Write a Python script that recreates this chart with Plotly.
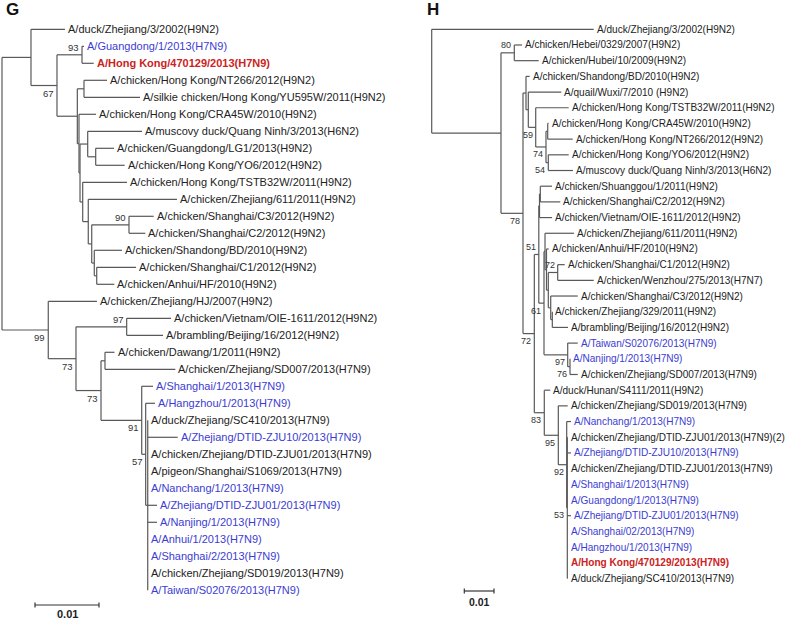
import plotly.graph_objects as go

W, H = 787, 619

# ---------------- Tree G ----------------
g_leaves = [
    "A/duck/Zhejiang/3/2002(H9N2)",
    "A/Guangdong/1/2013(H7N9)",
    "A/Hong Kong/470129/2013(H7N9)",
    "A/chicken/Hong Kong/NT266/2012(H9N2)",
    "A/silkie chicken/Hong Kong/YU595W/2011(H9N2)",
    "A/chicken/Hong Kong/CRA45W/2010(H9N2)",
    "A/muscovy duck/Quang Ninh/3/2013(H6N2)",
    "A/chicken/Guangdong/LG1/2013(H9N2)",
    "A/chicken/Hong Kong/YO6/2012(H9N2)",
    "A/chicken/Hong Kong/TSTB32W/2011(H9N2)",
    "A/chicken/Zhejiang/611/2011(H9N2)",
    "A/chicken/Shanghai/C3/2012(H9N2)",
    "A/chicken/Shanghai/C2/2012(H9N2)",
    "A/chicken/Shandong/BD/2010(H9N2)",
    "A/chicken/Shanghai/C1/2012(H9N2)",
    "A/chicken/Anhui/HF/2010(H9N2)",
    "A/chicken/Zhejiang/HJ/2007(H9N2)",
    "A/chicken/Vietnam/OIE-1611/2012(H9N2)",
    "A/brambling/Beijing/16/2012(H9N2)",
    "A/chicken/Dawang/1/2011(H9N2)",
    "A/chicken/Zhejiang/SD007/2013(H7N9)",
    "A/Shanghai/1/2013(H7N9)",
    "A/Hangzhou/1/2013(H7N9)",
    "A/duck/Zhejiang/SC410/2013(H7N9)",
    "A/Zhejiang/DTID-ZJU10/2013(H7N9)",
    "A/chicken/Zhejiang/DTID-ZJU01/2013(H7N9)",
    "A/pigeon/Shanghai/S1069/2013(H7N9)",
    "A/Nanchang/1/2013(H7N9)",
    "A/Zhejiang/DTID-ZJU01/2013(H7N9)",
    "A/Nanjing/1/2013(H7N9)",
    "A/Anhui/1/2013(H7N9)",
    "A/Shanghai/2/2013(H7N9)",
    "A/chicken/Zhejiang/SD019/2013(H7N9)",
    "A/Taiwan/S02076/2013(H7N9)",
]
g_leaf_group = ["other", "human", "hk"] + ["other"] * 18 + [
    "human", "human", "other", "human", "other", "other", "human",
    "human", "human", "human", "human", "other", "human"]
g_leaf_parent = ["A0", "N23", "N23", "N45", "N45", "Nrest", "N789", "N89", "N89",
                 "N10_16", "N11_16", "N1213", "N1213", "N14_16", "N1516", "N1516",
                 "B", "N1819", "N1819", "N2021", "N2021", "B4", "B5"] + ["B6"] * 11
g_leaf_depth = [0.00984, 0.01281, 0.01433, 0.01641, 0.02156, 0.01469, 0.02188,
                0.01750, 0.01917, 0.01953, 0.02734, 0.02370, 0.02239, 0.01875,
                0.02094, 0.01755, 0.01484, 0.02641, 0.02516, 0.01758, 0.02708,
                0.02359, 0.02391, 0.02277, 0.02745, 0.02277, 0.02277, 0.02277,
                0.02422, 0.02422, 0.02277, 0.02277, 0.02277, 0.02277]
g_nodes = ["root", "A0", "A1", "N23", "P", "N45", "Nrest", "R", "N789", "N89",
           "N10_16", "N11_16", "N12_16", "N1213", "N14_16", "N1516",
           "B", "B2", "N1819", "B3", "N2021", "B4", "B5", "B6"]
g_node_parent = [None, "root", "A0", "A1", "A1", "P", "P", "Nrest", "R", "N789",
                 "R", "N10_16", "N11_16", "N12_16", "N12_16", "N14_16",
                 "root", "B", "B2", "B2", "B3", "B3", "B4", "B5"]
g_node_depth = [0.0, 0.00453, 0.00859, 0.01250, 0.01177, 0.01281, 0.01203, 0.01219,
                0.01339, 0.01464, 0.01261, 0.01348, 0.01402, 0.01984, 0.01442,
                0.01480, 0.00723, 0.01156, 0.01948, 0.01547, 0.01609, 0.02183,
                0.02245, 0.02277]
g_boot_node = ["N23", "A1", "N1213", "B", "N1819", "B2", "B3", "B4", "B5"]
g_boot_value = [93, 67, 90, 99, 97, 73, 73, 91, 57]
g_boot_above = ["N23", "N1213", "N1819"]

# ---------------- Tree H ----------------
h_leaves = [
    "A/duck/Zhejiang/3/2002(H9N2)",
    "A/chicken/Hebei/0329/2007(H9N2)",
    "A/chicken/Hubei/10/2009(H9N2)",
    "A/chicken/Shandong/BD/2010(H9N2)",
    "A/quail/Wuxi/7/2010 (H9N2)",
    "A/chicken/Hong Kong/TSTB32W/2011(H9N2)",
    "A/chicken/Hong Kong/CRA45W/2010(H9N2)",
    "A/chicken/Hong Kong/NT266/2012(H9N2)",
    "A/chicken/Hong Kong/YO6/2012(H9N2)",
    "A/muscovy duck/Quang Ninh/3/2013(H6N2)",
    "A/chicken/Shuanggou/1/2011(H9N2)",
    "A/chicken/Shanghai/C2/2012(H9N2)",
    "A/chicken/Vietnam/OIE-1611/2012(H9N2)",
    "A/chicken/Zhejiang/611/2011(H9N2)",
    "A/chicken/Anhui/HF/2010(H9N2)",
    "A/chicken/Shanghai/C1/2012(H9N2)",
    "A/chicken/Wenzhou/275/2013(H7N7)",
    "A/chicken/Shanghai/C3/2012(H9N2)",
    "A/chicken/Zhejiang/329/2011(H9N2)",
    "A/brambling/Beijing/16/2012(H9N2)",
    "A/Taiwan/S02076/2013(H7N9)",
    "A/Nanjing/1/2013(H7N9)",
    "A/chicken/Zhejiang/SD007/2013(H7N9)",
    "A/duck/Hunan/S4111/2011(H9N2)",
    "A/chicken/Zhejiang/SD019/2013(H7N9)",
    "A/Nanchang/1/2013(H7N9)",
    "A/chicken/Zhejiang/DTID-ZJU01/2013(H7N9)(2)",
    "A/Zhejiang/DTID-ZJU10/2013(H7N9)",
    "A/chicken/Zhejiang/DTID-ZJU01/2013(H7N9)",
    "A/Shanghai/1/2013(H7N9)",
    "A/Guangdong/1/2013(H7N9)",
    "A/Zhejiang/DTID-ZJU01/2013(H7N9)",
    "A/Shanghai/02/2013(H7N9)",
    "A/Hangzhou/1/2013(H7N9)",
    "A/Hong Kong/470129/2013(H7N9)",
    "A/duck/Zhejiang/SC410/2013(H7N9)",
]
h_leaf_group = ["other"] * 20 + ["human", "human", "other", "other", "other",
                                 "human", "other", "human", "other", "human",
                                 "human", "human", "human", "human", "hk", "other"]
h_leaf_parent = ["root", "N23", "N23", "T", "N5", "N6", "N78", "N78", "N910", "N910",
                 "N1112", "N1112", "N1113", "W", "W2", "N1617", "N1617", "N18_20",
                 "N1920", "N1920", "N2123", "N2223", "N2223", "N83", "N95", "N92"] + ["N53"] * 10
h_leaf_depth = [0.05455, 0.03040, 0.03603, 0.03300, 0.04364, 0.04613, 0.03933,
                0.04747, 0.04613, 0.04758, 0.04051, 0.04330, 0.04051, 0.04791,
                0.03939, 0.04478, 0.05455, 0.04916, 0.04061, 0.04589, 0.04916,
                0.04657, 0.04916, 0.03993, 0.04579, 0.04690, 0.04579, 0.04690,
                0.04579, 0.04579, 0.04579, 0.04690, 0.04579, 0.04579, 0.04579,
                0.04579]
h_nodes = ["root", "N1", "N23", "X", "T", "N5", "N6", "N7", "N78", "N910", "Y",
           "N51", "N1113", "N1112", "Z", "W", "W2", "N1617_20", "N1617", "N18_20",
           "N1920", "N2123", "N2223", "N83", "N95", "N92", "N53"]
h_node_parent = [None, "root", "N1", "N1", "X", "T", "N5", "N6", "N7", "N7", "X",
                 "Y", "N51", "N1113", "N51", "Z", "W", "W2", "N1617_20", "N1617_20",
                 "N18_20", "Z", "N2123", "Y", "N83", "N95", "N92"]
h_node_depth = [0.0, 0.02333, 0.02781, 0.03074, 0.03175, 0.03253, 0.03502, 0.03848,
                0.03906, 0.03926, 0.03455, 0.03606, 0.03630, 0.03657, 0.03781,
                0.03815, 0.03865, 0.03926, 0.04242, 0.04007, 0.04061, 0.04579,
                0.04657, 0.03791, 0.04263, 0.04545, 0.04566]
h_boot_node = ["N23", "X", "N6", "N7", "N910", "N51", "N1617", "Z", "N2123", "N2223",
               "Y", "N83", "N95", "N92", "N53"]
h_boot_value = [80, 78, 59, 74, 54, 51, 72, 61, 97, 76, 72, 83, 95, 92, 53]
h_boot_above = ["N23", "N51", "N1617"]

scale_value = 0.01

# ---------------- styling ----------------
FONT = "Liberation Sans, Arial, sans-serif"
LINE = "#595959"
COLORS = {"other": "#222222", "human": "#3c3cd2", "hk": "#cc2222"}

# pixel geometry of the two panels
G_PX = dict(x0=0, x1=420, root=2, unit=6400.0, row0=29.3, dy=17.0,
            bar_x=35.0, bar_y=605.0, text_dy=-9.0)
H_PX = dict(x0=420, x1=787, root=431.7, unit=2970.0, row0=29.3, dy=15.69,
            bar_x=464.3, bar_y=591.0, text_dy=-10.5)


def layout_tree(leaf_parent, leaf_depth, nodes, node_parent, node_depth):
    depth = dict(zip(nodes, node_depth))
    children = {n: [] for n in nodes}
    for i, p in enumerate(leaf_parent):
        children[p].append(("L", i))
    for n, p in zip(nodes, node_parent):
        if p is not None:
            children[p].append(("N", n))
    ypos = {}

    def gety(item):
        kind, key = item
        if kind == "L":
            return key
        if key not in ypos:
            ys = [gety(c) for c in children[key]]
            ypos[key] = (min(ys) + max(ys)) / 2
        return ypos[key]

    for n in nodes:
        gety(("N", n))
    xs, ys = [], []
    for i, (p, d) in enumerate(zip(leaf_parent, leaf_depth)):
        xs += [depth[p], d, None]
        ys += [i, i, None]
    for n, p in zip(nodes, node_parent):
        if p is not None:
            xs += [depth[p], depth[n], None]
            ys += [ypos[n], ypos[n], None]
        cy = [gety(c) for c in children[n]]
        xs += [depth[n], depth[n], None]
        ys += [min(cy), max(cy), None]
    return xs, ys, ypos, depth


fig = go.Figure()
annotations = []


def add_tree(leaves, groups, lparent, ldepth, nodes, nparent, ndepth,
             bnodes, bvals, babove, xa, ya, fsize, bsize, px, scale_fsize):
    xs, ys, ypos, depth = layout_tree(lparent, ldepth, nodes, nparent, ndepth)
    fig.add_trace(go.Scatter(x=xs, y=ys, mode="lines", xaxis=xa, yaxis=ya,
                             line=dict(color=LINE, width=1.2), hoverinfo="skip",
                             showlegend=False))
    for i, (name, g, d) in enumerate(zip(leaves, groups, ldepth)):
        txt = f"<b>{name}</b>" if g == "hk" else name
        annotations.append(dict(x=d, y=i, xref=xa, yref=ya, text=txt,
                                showarrow=False, xanchor="left", yanchor="middle",
                                xshift=3, borderpad=0, borderwidth=0,
                                font=dict(family=FONT, size=fsize, color=COLORS[g])))
    for n, v in zip(bnodes, bvals):
        annotations.append(dict(x=depth[n], y=ypos[n], xref=xa, yref=ya, text=str(v),
                                showarrow=False, xanchor="right", yanchor="middle",
                                xshift=-3, yshift=7.5 if n in babove else -7.5,
                                borderpad=0, borderwidth=0,
                                font=dict(family=FONT, size=bsize, color="#333333")))
    # scale bar
    by = (px["bar_y"] - px["row0"]) / px["dy"]
    bx = (px["bar_x"] - px["root"]) / px["unit"]
    tick = 2.5 / px["dy"]
    fig.add_trace(go.Scatter(x=[bx, bx + scale_value, None, bx, bx, None,
                                bx + scale_value, bx + scale_value],
                             y=[by, by, None, by - tick, by + tick, None,
                                by - tick, by + tick],
                             mode="lines", xaxis=xa, yaxis=ya, hoverinfo="skip",
                             line=dict(color="#333333", width=1.2), showlegend=False))
    annotations.append(dict(x=bx + scale_value / 2, y=by, xref=xa, yref=ya,
                            text=f"<b>{scale_value}</b>", showarrow=False,
                            xanchor="center", yanchor="middle", yshift=px["text_dy"],
                            borderpad=0, borderwidth=0,
                            font=dict(family=FONT, size=scale_fsize, color="#222222")))


add_tree(g_leaves, g_leaf_group, g_leaf_parent, g_leaf_depth, g_nodes,
         g_node_parent, g_node_depth, g_boot_node, g_boot_value, g_boot_above,
         "x", "y", 11, 9.5, G_PX, 11)
add_tree(h_leaves, h_leaf_group, h_leaf_parent, h_leaf_depth, h_nodes,
         h_node_parent, h_node_depth, h_boot_node, h_boot_value, h_boot_above,
         "x2", "y2", 10.05, 9, H_PX, 10.5)

# panel letters
annotations.append(dict(x=4 / W, y=1 - 9.5 / H, xref="paper", yref="paper", text="<b>G</b>",
                        showarrow=False, xanchor="left", yanchor="middle",
                        font=dict(family=FONT, size=17, color="#111111")))
annotations.append(dict(x=425 / W, y=1 - 10 / H, xref="paper", yref="paper", text="<b>H</b>",
                        showarrow=False, xanchor="left", yanchor="middle",
                        font=dict(family=FONT, size=17, color="#111111")))


def xrange_for(px):
    return [(px["x0"] - px["root"]) / px["unit"], (px["x1"] - px["root"]) / px["unit"]]


def yrange_for(px):
    return [(H - px["row0"]) / px["dy"], -px["row0"] / px["dy"]]


axis_off = dict(visible=False, showgrid=False, zeroline=False, fixedrange=True)
fig.update_layout(
    width=W, height=H, autosize=False,
    margin=dict(l=0, r=0, t=0, b=0),
    paper_bgcolor="white", plot_bgcolor="white",
    xaxis=dict(domain=[G_PX["x0"] / W, G_PX["x1"] / W], range=xrange_for(G_PX), **axis_off),
    yaxis=dict(domain=[0, 1], range=yrange_for(G_PX), **axis_off),
    xaxis2=dict(domain=[H_PX["x0"] / W, H_PX["x1"] / W], range=xrange_for(H_PX),
                anchor="y2", **axis_off),
    yaxis2=dict(domain=[0, 1], range=yrange_for(H_PX), anchor="x2", **axis_off),
    annotations=annotations,
    showlegend=False,
)

fig.write_html("out.html", config={"displayModeBar": False},
               post_script="document.body.style.margin='0';document.body.style.overflow='hidden';")
